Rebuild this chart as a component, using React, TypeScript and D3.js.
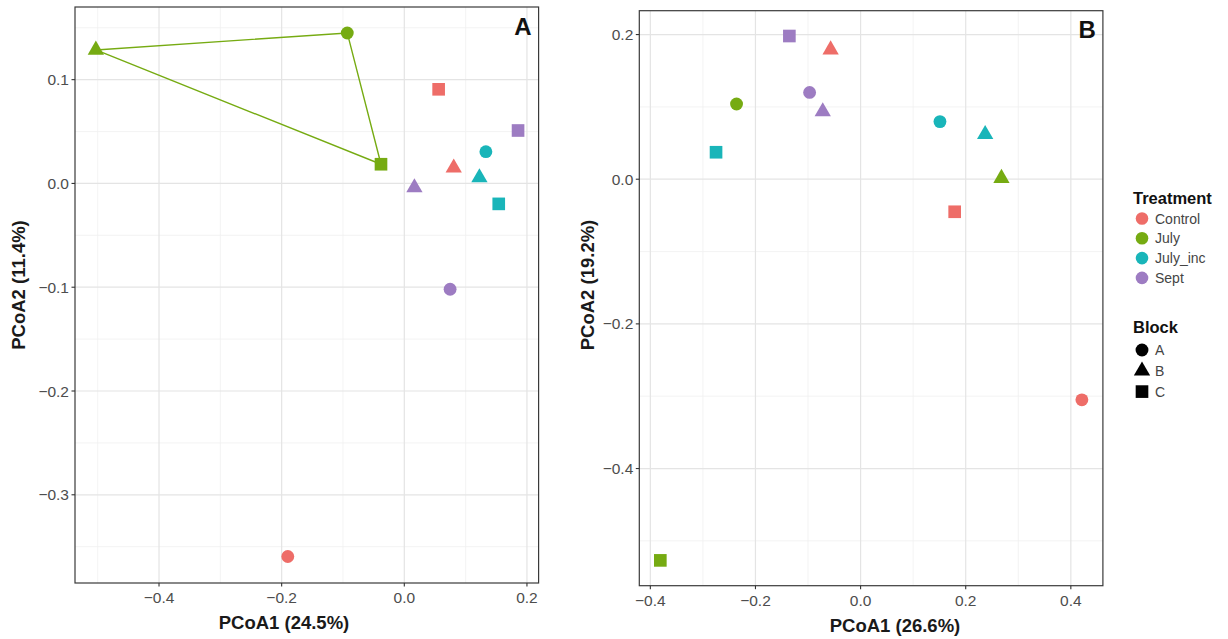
import React from "react";
import * as d3 from "d3";

const treatments = ["Control", "July", "July_inc", "Sept"];
const treatmentColors = ["#EE6D68", "#76AB12", "#19B5B9", "#9D7CC2"];
const blocks = ["A", "B", "C"];

const sampleTreatment = ["Control", "Control", "Control", "July", "July", "July", "July_inc", "July_inc", "July_inc", "Sept", "Sept", "Sept"];
const sampleBlock = ["A", "B", "C", "A", "B", "C", "A", "B", "C", "A", "B", "C"];

const panelA_x = [-0.19, 0.0806, 0.056, -0.093, -0.503, -0.038, 0.133, 0.1225, 0.154, 0.0747, 0.0165, 0.1855];
const panelA_y = [-0.3595, 0.015, 0.0907, 0.145, 0.1286, 0.0185, 0.0306, 0.0056, -0.0197, -0.102, -0.004, 0.051];

const panelB_x = [0.421, -0.057, 0.179, -0.236, 0.268, -0.381, 0.151, 0.237, -0.275, -0.097, -0.072, -0.1355];
const panelB_y = [-0.305, 0.179, -0.045, 0.104, 0.0013, -0.527, 0.0797, 0.062, 0.0373, 0.12, 0.0935, 0.198];

const A_xTicks = [-0.4, -0.2, 0.0, 0.2];
const A_xMinor = [-0.5, -0.3, -0.1, 0.1];
const A_yTicks = [0.1, 0.0, -0.1, -0.2, -0.3];
const A_yMinor = [0.15, 0.05, -0.05, -0.15, -0.25, -0.35];
const B_xTicks = [-0.4, -0.2, 0.0, 0.2, 0.4];
const B_xMinor = [-0.3, -0.1, 0.1, 0.3];
const B_yTicks = [0.2, 0.0, -0.2, -0.4];
const B_yMinor = [0.1, -0.1, -0.3, -0.5];

const FONT = "'Liberation Sans', Arial, Helvetica, sans-serif";

const shapeOf = (b: string) =>
  b === "A" ? d3.symbolCircle : b === "B" ? d3.symbolTriangle : d3.symbolSquare;
const sizeOf = (b: string) => (b === "A" ? 130 : b === "B" ? 115 : 160);
const colorOf = (t: string) => treatmentColors[treatments.indexOf(t)];
const fmt = (v: number) => d3.format(".1f")(v).replace("-", "\u2212");

type PanelProps = {
  xs: number[];
  ys: number[];
  xDomain: [number, number];
  yDomain: [number, number];
  xRange: [number, number];
  yRange: [number, number];
  xTicks: number[];
  xMinor: number[];
  yTicks: number[];
  yMinor: number[];
  xTitle: string;
  yTitle: string;
  xTitleX: number;
  yTitleX: number;
  letter: string;
  hull?: string;
};

function Panel(p: PanelProps) {
  const x = d3.scaleLinear().domain(p.xDomain).range(p.xRange);
  const y = d3.scaleLinear().domain(p.yDomain).range(p.yRange);
  const [x0, x1] = p.xRange;
  const [y0, y1] = p.yRange; // y0 bottom, y1 top
  let hullPath: string | null = null;
  if (p.hull) {
    const pts: [number, number][] = [];
    sampleTreatment.forEach((t, i) => {
      if (t === p.hull) pts.push([x(p.xs[i]), y(p.ys[i])]);
    });
    const h = d3.polygonHull(pts);
    if (h) hullPath = "M" + h.map((q) => q.join(",")).join("L") + "Z";
  }
  return (
    <g>
      <rect x={x0} y={y1} width={x1 - x0} height={y0 - y1} fill="#fff" />
      {p.xMinor.map((v) => (
        <line key={"xm" + v} x1={x(v)} x2={x(v)} y1={y1} y2={y0} stroke="#F0F0F0" strokeWidth={0.8} />
      ))}
      {p.yMinor.map((v) => (
        <line key={"ym" + v} x1={x0} x2={x1} y1={y(v)} y2={y(v)} stroke="#F0F0F0" strokeWidth={0.8} />
      ))}
      {p.xTicks.map((v) => (
        <line key={"xg" + v} x1={x(v)} x2={x(v)} y1={y1} y2={y0} stroke="#E4E4E4" strokeWidth={1.2} />
      ))}
      {p.yTicks.map((v) => (
        <line key={"yg" + v} x1={x0} x2={x1} y1={y(v)} y2={y(v)} stroke="#E4E4E4" strokeWidth={1.2} />
      ))}
      {hullPath && <path d={hullPath} fill="none" stroke={colorOf(p.hull!)} strokeWidth={1.4} />}
      {p.xs.map((v, i) => (
        <path
          key={"pt" + i}
          d={d3.symbol().type(shapeOf(sampleBlock[i])).size(sizeOf(sampleBlock[i]))() || ""}
          transform={`translate(${x(v)},${y(p.ys[i])})`}
          fill={colorOf(sampleTreatment[i])}
        />
      ))}
      <rect x={x0} y={y1} width={x1 - x0} height={y0 - y1} fill="none" stroke="#3a3a3a" strokeWidth={1.2} />
      {p.xTicks.map((v) => (
        <g key={"xt" + v}>
          <line x1={x(v)} x2={x(v)} y1={y0} y2={y0 + 3.5} stroke="#333" strokeWidth={1.1} />
          <text x={x(v)} y={y0 + 20} textAnchor="middle" fontFamily={FONT} fontSize={15.5} fill="#4d4d4d">
            {fmt(v)}
          </text>
        </g>
      ))}
      {p.yTicks.map((v) => (
        <g key={"yt" + v}>
          <line x1={x0 - 3.5} x2={x0} y1={y(v)} y2={y(v)} stroke="#333" strokeWidth={1.1} />
          <text x={x0 - 6} y={y(v) + 5.5} textAnchor="end" fontFamily={FONT} fontSize={15.5} fill="#4d4d4d">
            {fmt(v)}
          </text>
        </g>
      ))}
      <text x={p.xTitleX} y={y0 + 46} textAnchor="middle" fontFamily={FONT} fontSize={18.5} fontWeight="bold" fill="#1a1a1a">
        {p.xTitle}
      </text>
      <text
        transform={`translate(${p.yTitleX},285) rotate(-90)`}
        textAnchor="middle"
        fontFamily={FONT}
        fontSize={18.5}
        fontWeight="bold"
        fill="#1a1a1a"
      >
        {p.yTitle}
      </text>
      <text x={x1 - 7} y={y1 + 27.5} textAnchor="end" fontFamily={FONT} fontSize={24} fontWeight="bold" fill="#111">
        {p.letter}
      </text>
    </g>
  );
}

export default function App() {
  return (
    <svg width={1228} height={639} style={{ position: "absolute", left: 0, top: 0, background: "#fff" }}>
      <rect width={1228} height={639} fill="#fff" />
      <Panel
        xs={panelA_x}
        ys={panelA_y}
        xDomain={[-0.537, 0.219]}
        yDomain={[-0.385, 0.17]}
        xRange={[75, 538.6]}
        yRange={[583, 7]}
        xTicks={A_xTicks}
        xMinor={A_xMinor}
        yTicks={A_yTicks}
        yMinor={A_yMinor}
        xTitle="PCoA1 (24.5%)"
        yTitle="PCoA2 (11.4%)"
        xTitleX={284}
        yTitleX={25}
        letter="A"
        hull="July"
      />
      <Panel
        xs={panelB_x}
        ys={panelB_y}
        xDomain={[-0.421, 0.461]}
        yDomain={[-0.562, 0.233]}
        xRange={[639.3, 1102.9]}
        yRange={[585.7, 10.7]}
        xTicks={B_xTicks}
        xMinor={B_xMinor}
        yTicks={B_yTicks}
        yMinor={B_yMinor}
        xTitle="PCoA1 (26.6%)"
        yTitle="PCoA2 (19.2%)"
        xTitleX={895}
        yTitleX={594}
        letter="B"
      />
      <g fontFamily={FONT}>
        <text x={1133} y={204} fontSize={16.5} fontWeight="bold" fill="#111">Treatment</text>
        {treatments.map((t, i) => (
          <g key={t}>
            <circle cx={1142} cy={218.5 + i * 19.8} r={6.3} fill={treatmentColors[i]} />
            <text x={1155} y={223.5 + i * 19.8} fontSize={14} fill="#444">{t}</text>
          </g>
        ))}
        <text x={1133} y={333} fontSize={16.5} fontWeight="bold" fill="#111">Block</text>
        {blocks.map((b, i) => (
          <g key={b}>
            <path
              d={d3.symbol().type(shapeOf(b)).size(sizeOf(b))() || ""}
              transform={`translate(1142,${350 + i * 20.8})`}
              fill="#000"
            />
            <text x={1155} y={355 + i * 20.8} fontSize={14} fill="#444">{b}</text>
          </g>
        ))}
      </g>
    </svg>
  );
}
